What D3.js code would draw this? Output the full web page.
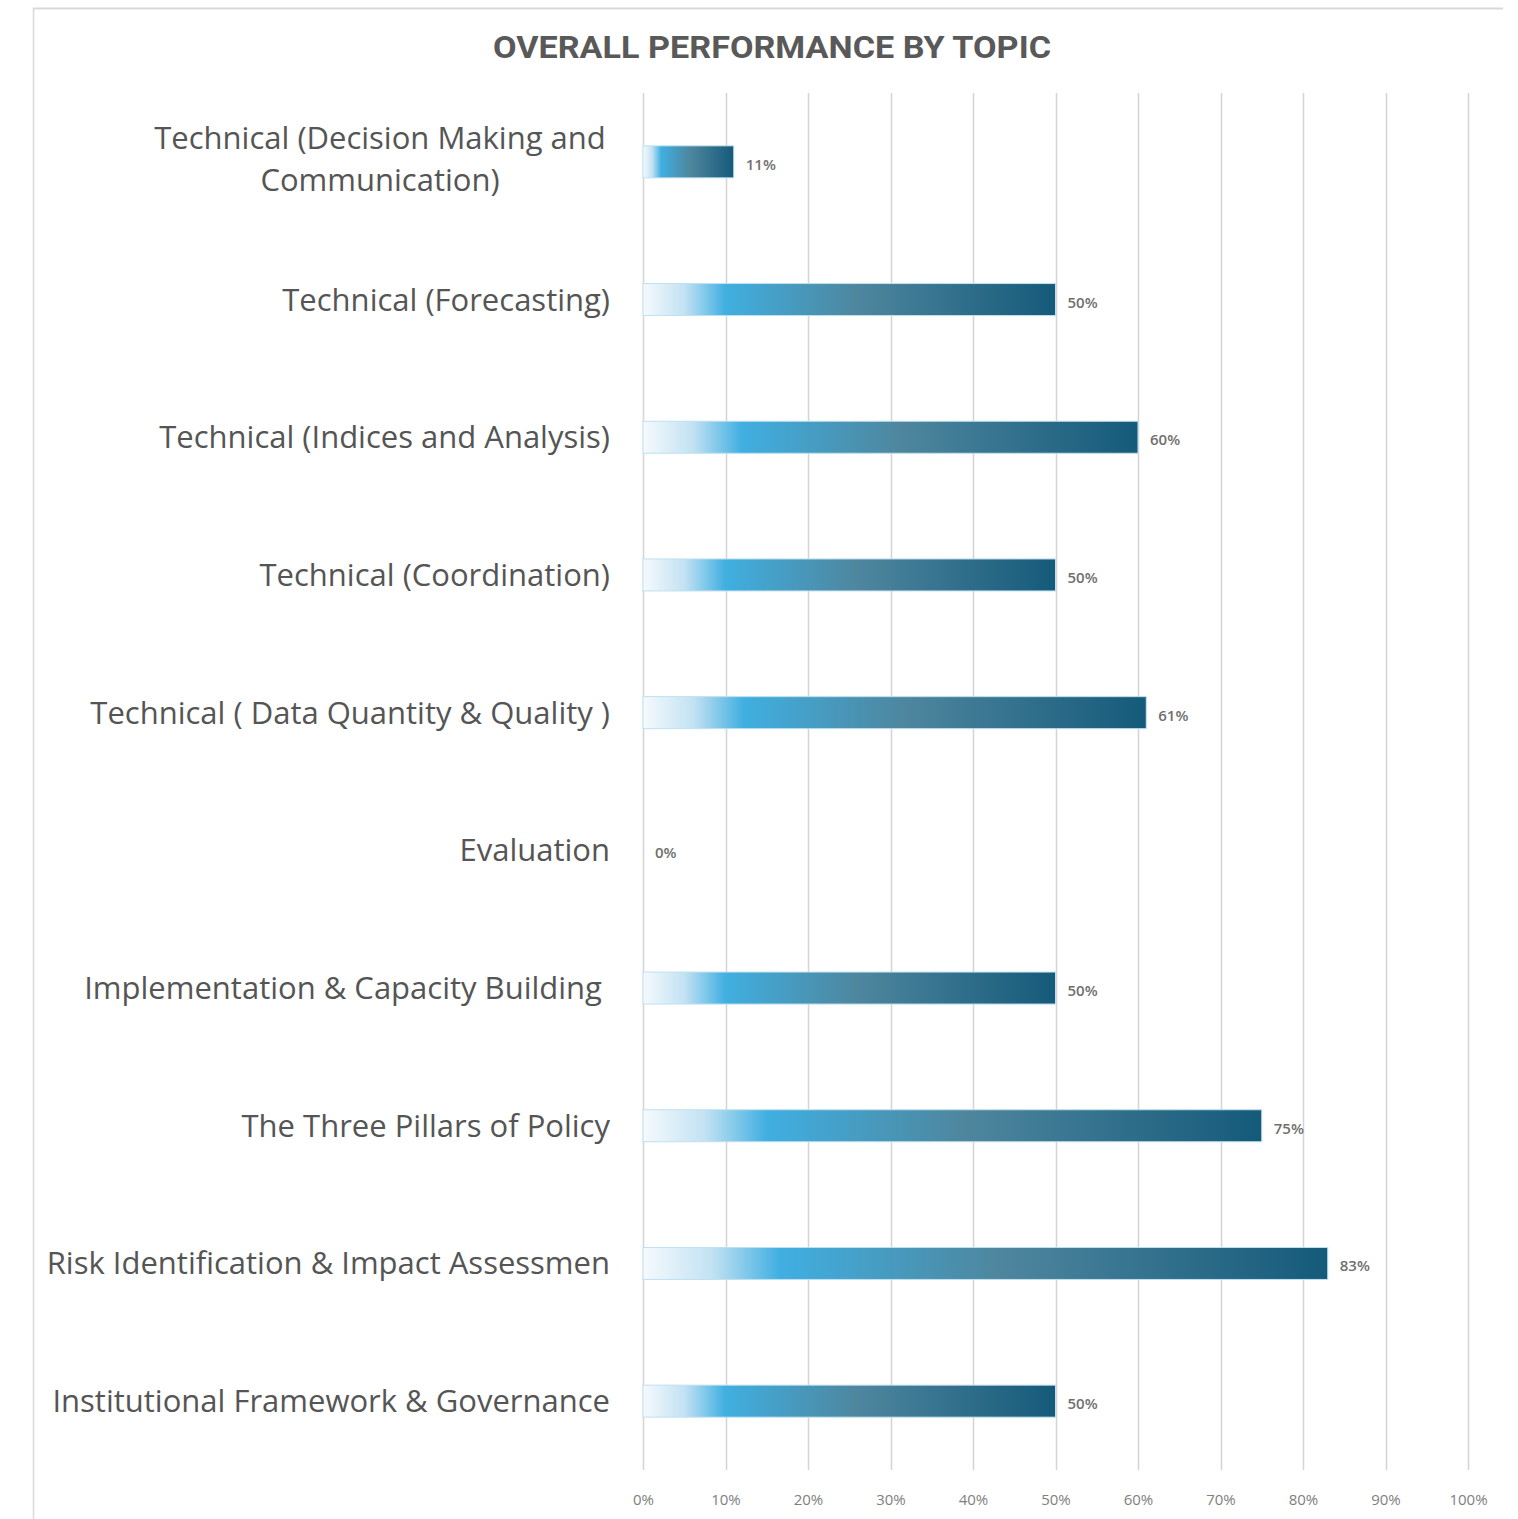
<!DOCTYPE html>
<html>
<head>
<meta charset="utf-8">
<script src="https://cdn.jsdelivr.net/npm/d3@7"></script>
<style>
  body { margin: 0; background: #fff; }
  text { font-family: "Open Sans", "Noto Sans", sans-serif; }
</style>
</head>
<body>
<svg id="chart"></svg>
<script>
const topics = [
  "Technical (Decision Making and|Communication)",
  "Technical (Forecasting)",
  "Technical (Indices and Analysis)",
  "Technical (Coordination)",
  "Technical ( Data Quantity & Quality )",
  "Evaluation",
  "Implementation & Capacity Building ",
  "The Three Pillars of Policy",
  "Risk Identification & Impact Assessmen",
  "Institutional Framework & Governance"
];
const scores = [0.11, 0.50, 0.60, 0.50, 0.61, 0.00, 0.50, 0.75, 0.83, 0.50];
const tickValues = [0, 0.1, 0.2, 0.3, 0.4, 0.5, 0.6, 0.7, 0.8, 0.9, 1];

const rows = topics.map((t, i) => ({topic: t, score: scores[i]}));

const W = 1518, H = 1519;
const plot = {left: 643, right: 1468, top: 93, bottom: 1470};

const svg = d3.select("#chart").attr("width", W).attr("height", H);

// frame (top + left edges only, right side is cropped)
svg.append("line").attr("x1", 33).attr("x2", 1503).attr("y1", 8.5).attr("y2", 8.5)
  .attr("stroke", "#d9d9d9").attr("stroke-width", 2);
svg.append("line").attr("x1", 33.5).attr("x2", 33.5).attr("y1", 8).attr("y2", H)
  .attr("stroke", "#d9d9d9").attr("stroke-width", 1.5);

const defs = svg.append("defs");
const grad = defs.append("linearGradient").attr("id", "barGrad")
  .attr("x1", "0%").attr("x2", "100%").attr("y1", "0%").attr("y2", "0%");
[[0, "#f5fafd"], [0.1, "#c3e2f3"], [0.2, "#40afe1"], [0.52, "#4e869e"], [1, "#155a7a"]]
  .forEach(([o, c]) => grad.append("stop").attr("offset", o).attr("stop-color", c));

const x = d3.scaleLinear().domain([0, 1]).range([plot.left, plot.right]);
const y = d3.scaleBand().domain(topics).range([plot.top, plot.bottom]).padding(0);
const barH = 32;
const cy = d => y(d.topic) + y.bandwidth() / 2;

// title
svg.append("text").attr("x", 772).attr("y", 58).attr("text-anchor", "middle")
  .style("font-family", "Roboto, sans-serif").style("font-weight", "700")
  .style("font-size", "32px").attr("fill", "#595959")
  .attr("textLength", 558).attr("lengthAdjust", "spacingAndGlyphs")
  .text("OVERALL PERFORMANCE BY TOPIC");

// gridlines
svg.append("g").selectAll("line").data(tickValues).join("line")
  .attr("x1", d => Math.round(x(d)) + 0.5).attr("x2", d => Math.round(x(d)) + 0.5)
  .attr("y1", plot.top).attr("y2", plot.bottom)
  .attr("stroke", "#d4d4d4").attr("stroke-width", 1.5);

// x axis labels
const xAxis = d3.axisBottom(x).tickValues(tickValues).tickFormat(d3.format(".0%")).tickSize(0).tickPadding(0);
const ax = svg.append("g").attr("transform", `translate(0, ${plot.bottom + 24})`).call(xAxis);
ax.select(".domain").remove();
ax.selectAll("text").attr("fill", "#808080").style("font-size", "15px");

// bars
svg.append("g").selectAll("rect").data(rows.filter(d => d.score > 0)).join("rect")
  .attr("x", x(0)).attr("y", d => cy(d) - barH / 2)
  .attr("width", d => x(d.score) - x(0)).attr("height", barH)
  .attr("fill", "url(#barGrad)").attr("stroke", "#bfe0f1").attr("stroke-width", 1);

// value labels
svg.append("g").selectAll("text").data(rows).join("text")
  .attr("x", d => x(d.score) + 12).attr("y", d => cy(d) + 8)
  .attr("fill", "#6f6f6f").style("font-size", "15px").style("font-weight", "600")
  .text(d => d3.format(".0%")(d.score));

// category labels
svg.append("g").selectAll("text").data(rows).join("text")
  .attr("fill", "#555").style("font-size", "31px")
  .each(function(d) {
    const t = d3.select(this);
    const lines = d.topic.split("|");
    if (lines.length === 1) {
      t.attr("x", 610).attr("y", cy(d) + 11).attr("text-anchor", "end")
        .attr("xml:space", "preserve").text(d.topic);
    } else {
      t.attr("text-anchor", "middle");
      lines.forEach((l, k) => {
        t.append("tspan").attr("x", 380).attr("y", cy(d) - 13 + k * 42).text(l);
      });
    }
  });
</script>
</body>
</html>
